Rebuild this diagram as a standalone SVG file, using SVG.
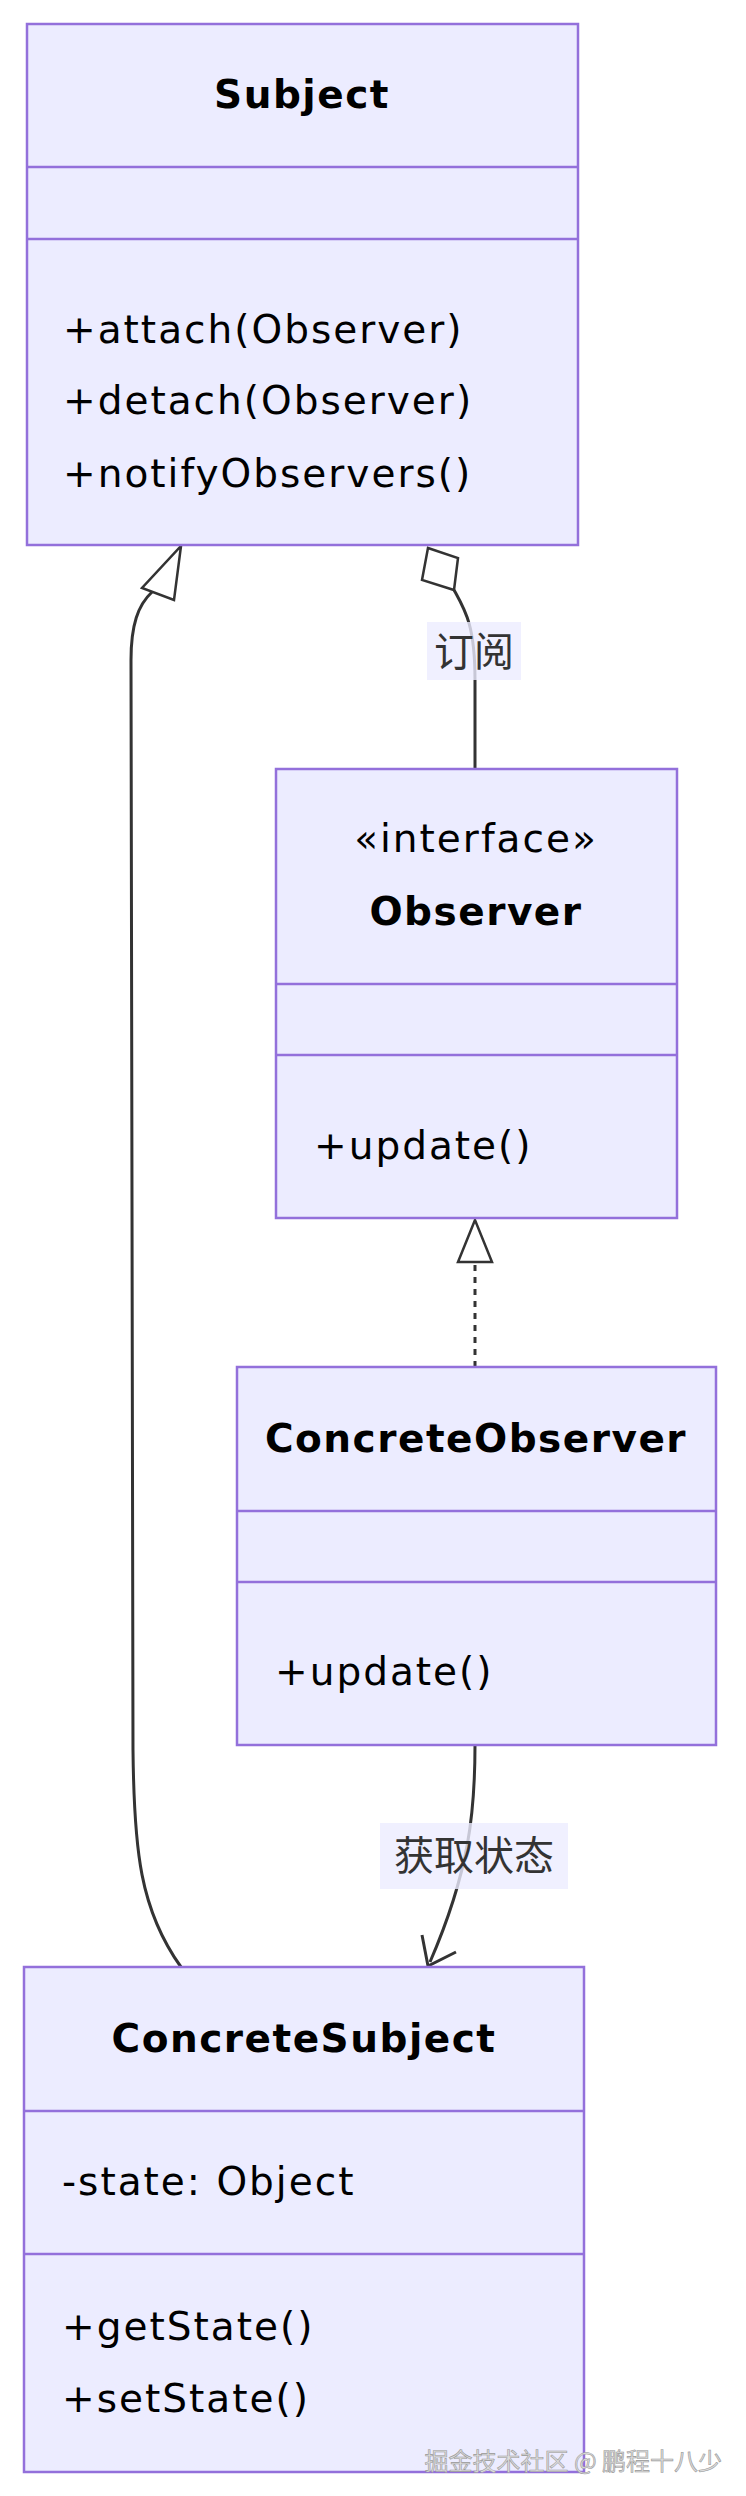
<svg xmlns="http://www.w3.org/2000/svg" width="746" height="2496" viewBox="0 0 746 2496">
<style>
.box{fill:#ECECFF;stroke:#9370DB;stroke-width:2.5}
.div{stroke:#9370DB;stroke-width:2.5}
.t{font-family:"DejaVu Sans",sans-serif;font-size:39px;font-weight:bold;fill:#000;text-anchor:middle;letter-spacing:1.5px}
.m{font-family:"DejaVu Sans",sans-serif;font-size:39px;fill:#000;letter-spacing:2px}
.e{fill:none;stroke:#333;stroke-width:3}
.lb{fill:#ECECFF;opacity:0.8}
.lt{font-family:"Noto Sans CJK SC",sans-serif;font-size:40px;fill:#333;text-anchor:middle}
</style>
<rect width="746" height="2496" fill="#fff"/>
<g id="connectors">
<path class="e" d="M181,1967 C140,1910 134,1850 133,1750 L131,660 C131,625 138,605 152,592"/>
<polygon points="181,546 174,600 142,588" fill="#fff" stroke="#333" stroke-width="2.5"/>
<path class="e" d="M454,590 C465,610 475,625 475,680 L475,769"/>
<polygon points="428,548 458,558 454,590 422,580" fill="#fff" stroke="#333" stroke-width="2.5"/>
<path class="e" d="M475,1367 L475,1262" stroke-dasharray="6,6"/>
<polygon points="475,1220 458,1262 492,1262" fill="#fff" stroke="#333" stroke-width="2.5"/>
<path class="e" d="M475,1745 C475,1810 470,1870 430,1962"/>
<path class="e" d="M422,1935 L428,1966 L456,1952"/>
<rect class="lb" x="427" y="622" width="94" height="58"/>
<text class="lt" x="474" y="666">订阅</text>
<rect class="lb" x="380" y="1823" width="188" height="66"/>
<text class="lt" x="474" y="1870">获取状态</text>
</g>
<g id="Subject">
<rect class="box" x="27" y="24" width="551" height="521"/>
<line class="div" x1="27" y1="167" x2="578" y2="167"/>
<line class="div" x1="27" y1="239" x2="578" y2="239"/>
<text class="t" x="302" y="108">Subject</text>
<text class="m" x="63" y="343">+attach(Observer)</text>
<text class="m" x="63" y="414">+detach(Observer)</text>
<text class="m" x="63" y="487">+notifyObservers()</text>
</g>
<g id="Observer">
<rect class="box" x="276" y="769" width="401" height="449"/>
<line class="div" x1="276" y1="984" x2="677" y2="984"/>
<line class="div" x1="276" y1="1055" x2="677" y2="1055"/>
<text class="m" x="476" y="852" text-anchor="middle">«interface»</text>
<text class="t" x="476" y="925">Observer</text>
<text class="m" x="314" y="1159">+update()</text>
</g>
<g id="ConcreteObserver">
<rect class="box" x="237" y="1367" width="479" height="378"/>
<line class="div" x1="237" y1="1511" x2="716" y2="1511"/>
<line class="div" x1="237" y1="1582" x2="716" y2="1582"/>
<text class="t" x="476" y="1452">ConcreteObserver</text>
<text class="m" x="275" y="1685">+update()</text>
</g>
<g id="ConcreteSubject">
<rect class="box" x="24" y="1967" width="560" height="505"/>
<line class="div" x1="24" y1="2111" x2="584" y2="2111"/>
<line class="div" x1="24" y1="2254" x2="584" y2="2254"/>
<text class="t" x="304" y="2052">ConcreteSubject</text>
<text class="m" x="62" y="2195">-state: Object</text>
<text class="m" x="62" y="2340">+getState()</text>
<text class="m" x="62" y="2412">+setState()</text>
</g>
<text x="722" y="2470" font-family="Noto Sans CJK SC,sans-serif" font-size="24" fill="#ddd" stroke="#999" stroke-width="0.6" text-anchor="end">掘金技术社区 @ 鹏程十八少</text>
</svg>
